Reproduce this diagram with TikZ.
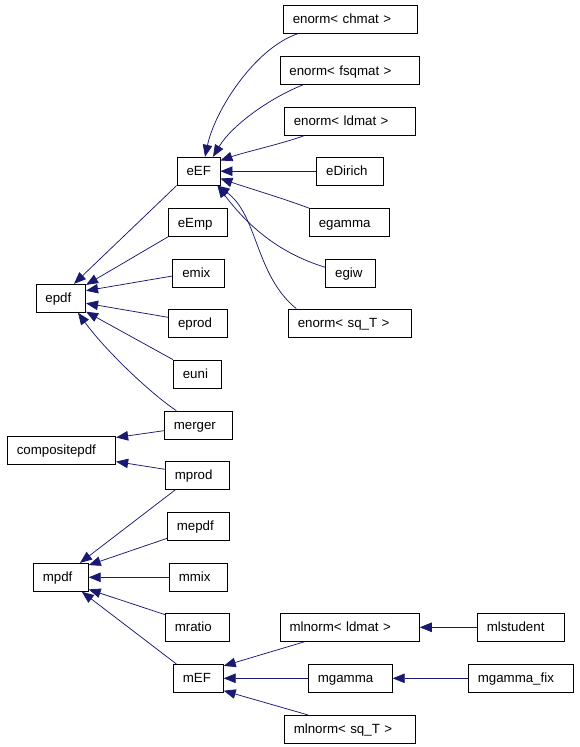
\documentclass[tikz,border=0pt]{standalone}
\usepackage{fontspec}
\setmainfont{Liberation Sans}
\usetikzlibrary{arrows.meta,calc}
\definecolor{edgeblue}{RGB}{25,25,112}
\hfuzz=5pt
\hbadness=10000
\begin{document}
\begin{tikzpicture}[x=1pt,y=-1pt,
  cls/.style={draw=black, line width=0.8pt, rectangle, minimum height=28pt,
    inner ysep=0pt, inner xsep=9.5pt, align=left, text height=11.5pt, text depth=2.5pt,
    font=\fontsize{13.3}{15}\selectfont},
  inh/.style={draw=edgeblue, line width=0.75pt, -{Triangle[length=12pt,width=9.5pt]}}]
\useasboundingbox (0,0) rectangle (579,747);
% right column (top)
\node[cls, text width=115.4pt] (chmat) at (350.5,19.3) {enorm< chmat >};
\node[cls, text width=120.7pt] (fsqmat) at (349.8,70.5) {enorm< fsqmat >};
\node[cls, text width=112pt] (ldmat) at (349.8,121.3) {enorm< ldmat >};
\node[cls, text width=47.2pt] (eDirich) at (349.8,171.2) {eDirich};
\node[cls, text width=61pt] (egamma) at (349.3,222.5) {egamma};
\node[cls, text width=30.6pt] (egiw) at (350.5,273.3) {egiw};
\node[cls, text width=104pt] (sqT) at (349.8,323) {enorm< sq\_T >};
% middle column
\node[cls, text width=24pt] (eEF) at (198.5,171.2) {eEF};
\node[cls, text width=40pt] (eEmp) at (197.8,222.5) {eEmp};
\node[cls, text width=32.8pt] (emix) at (198.7,273.3) {emix};
\node[cls, text width=40pt] (eprod) at (198,323) {eprod};
\node[cls, text width=29.3pt] (euni) at (197.5,374) {euni};
\node[cls, text width=49.4pt] (merger) at (198.5,425) {merger};
\node[cls, text width=45pt] (mprod) at (197.3,475.2) {mprod};
\node[cls, text width=43pt] (mepdf) at (198.3,526) {mepdf};
\node[cls, text width=39pt] (mmix) at (198.3,577.3) {mmix};
\node[cls, text width=45pt] (mratio) at (197.3,627.3) {mratio};
\node[cls, text width=31pt] (mEF) at (198.3,678.3) {mEF};
% left column
\node[cls, text width=30.7pt] (epdf) at (60.8,298.3) {epdf};
\node[cls, text width=89.4pt] (comp) at (61.5,450.2) {compositepdf};
\node[cls, text width=36pt] (mpdf) at (60.8,577.3) {mpdf};
% right column (bottom)
\node[cls, text width=120.3pt] (mlld) at (349.7,627.3) {mlnorm< ldmat >};
\node[cls, text width=65pt] (mgamma) at (350.3,678.3) {mgamma};
\node[cls, text width=112pt] (mlsq) at (349.8,729.3) {mlnorm< sq\_T >};
\node[cls, text width=68pt] (mlstudent) at (520.8,627.3) {mlstudent};
\node[cls, text width=86pt] (mgammafix) at (520.8,678.3) {mgamma\_fix};
% edges into eEF
\draw[inh] ($(chmat.south west)+(15,0)$) .. controls (255,48) and (215,110) .. ($(eEF.north)+(6.5,0)$);
\draw[inh] ($(fsqmat.south west)+(23.3,0)$) .. controls (270,98) and (232,125) .. ($(eEF.north)+(14.5,0)$);
\draw[inh] ($(ldmat.south west)+(20,0)$) .. controls (285,143) and (245,152) .. ($(eEF.north east)+(0,3.7)$);
\draw[inh] (eDirich) -- (eEF);
\draw[inh] (egamma.north west) .. controls (285,199) and (245,187) .. ($(eEF.east)+(0,7.3)$);
\draw[inh] ($(egiw.west)+(0,-6)$) .. controls (275,252) and (245,222) .. ($(eEF.south east)+(-3,0)$);
\draw[inh] ($(sqT.north west)+(8.4,0)$) .. controls (255,275) and (258,215) .. ($(eEF.south east)+(-3,0)$);
% edges into epdf
\draw[inh] (eEF.south west) -- ($(epdf.north)+(13.2,0)$);
\draw[inh] (eEmp.south west) -- ($(epdf.north east)+(0,1)$);
\draw[inh] ($(emix.west)+(0,2.7)$) -- ($(epdf.east)+(0,-7.6)$);
\draw[inh] ($(eprod.west)+(0,-5.7)$) -- ($(epdf.east)+(0,5)$);
\draw[inh] (euni.north west) -- ($(epdf.south east)+(0,-1)$);
\draw[inh] ($(merger.north west)+(12.4,0)$) .. controls (150,393) and (105,350) .. ($(epdf.south)+(17.2,0)$);
% edges into compositepdf
\draw[inh] ($(merger.west)+(0,5.7)$) -- ($(comp.north east)+(0,1.7)$);
\draw[inh] ($(mprod.west)+(0,-5.9)$) -- ($(comp.south east)+(0,-3)$);
% edges into mpdf
\draw[inh] ($(mprod.south west)+(10.7,0)$) -- ($(mpdf.north)+(19.2,0)$);
\draw[inh] ($(mepdf.south west)+(0,-2)$) -- ($(mpdf.north east)+(0,2.2)$);
\draw[inh] (mmix) -- (mpdf);
\draw[inh] ($(mratio.north west)+(0,1.7)$) -- ($(mpdf.south east)+(0,-2.3)$);
\draw[inh] ($(mEF.north west)+(3.4,0)$) -- ($(mpdf.south)+(21,0)$);
% edges into mEF
\draw[inh] ($(mlld.south west)+(25,0)$) -- ($(mEF.north east)+(0,2)$);
\draw[inh] (mgamma) -- (mEF);
\draw[inh] ($(mlsq.north west)+(24,0)$) -- ($(mEF.south east)+(0,-2)$);
% right-most
\draw[inh] (mlstudent) -- (mlld);
\draw[inh] (mgammafix) -- (mgamma);
\end{tikzpicture}
\end{document}
